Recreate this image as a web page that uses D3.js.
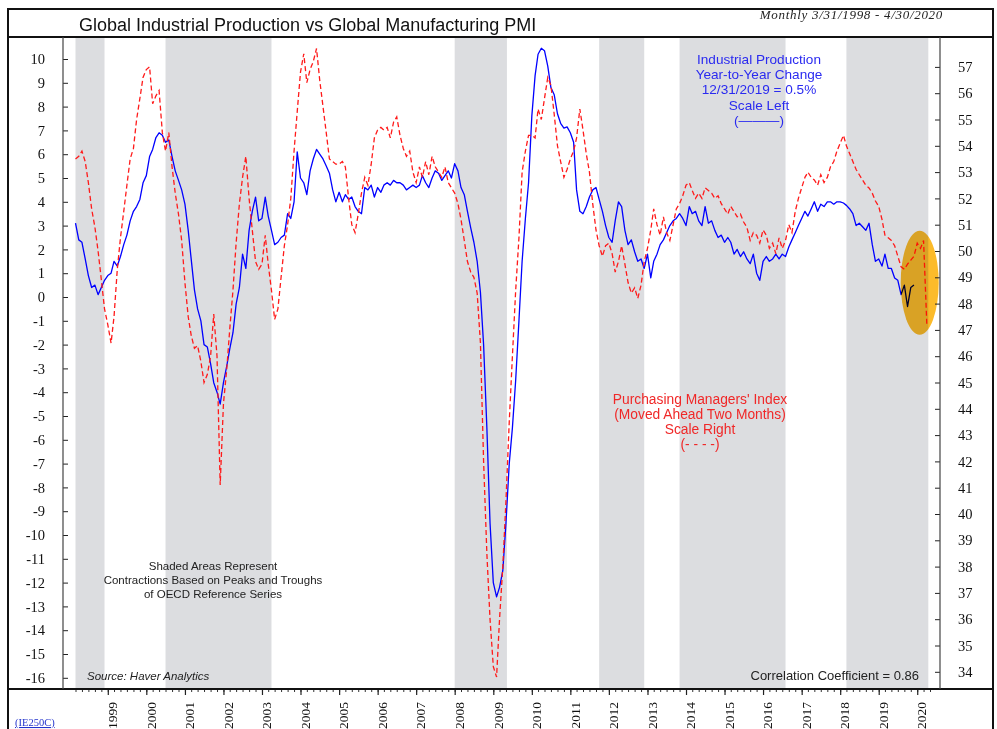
<!DOCTYPE html>
<html><head><meta charset="utf-8">
<script src="https://cdn.jsdelivr.net/npm/d3@7"></script>
<style>
html,body{margin:0;padding:0;background:#fff;}
svg{display:block;}
</style></head>
<body>
<svg id="chart" width="997" height="729"></svg>
<script>
// ---------------- DATA ----------------
const ipStart = "1998-03";          // Industrial production yoy % (scale left), monthly
const ipValues = [
 3.1,2.4,2.3,1.6,0.9,0.4,0.5,0.1,0.4,0.7,
 0.9,1.0,1.5,1.3,1.7,2.2,2.6,3.2,3.6,3.8,4.1,4.8,
 5.1,5.9,6.2,6.7,6.9,6.8,6.5,6.6,5.9,5.3,4.9,4.5,
 3.9,2.8,1.6,0.3,-0.5,-1.0,-2.0,-2.1,-2.8,-3.6,-4.0,-4.5,
 -3.6,-2.9,-2.2,-1.5,-0.3,0.4,1.8,1.2,2.8,3.6,4.2,3.2,
 3.3,4.2,3.4,2.8,2.2,2.3,2.5,2.6,3.5,3.3,4.0,6.1,
 5.0,4.8,4.3,5.3,5.8,6.2,6.0,5.8,5.5,5.2,4.5,4.0,
 4.4,4.0,4.3,4.1,4.2,3.8,3.6,3.5,4.6,4.5,4.7,4.2,
 4.6,4.4,4.7,4.8,4.7,4.9,4.8,4.8,4.7,4.5,4.6,4.7,
 4.6,4.7,5.1,4.8,4.6,5.0,5.3,5.2,4.9,5.1,5.3,5.0,
 5.6,5.3,4.6,4.3,3.6,2.9,2.3,1.5,0.2,-2.0,-5.5,-9.5,
 -12.0,-12.6,-12.2,-11.5,-9.5,-7.0,-5.5,-3.5,-1.0,1.5,3.3,4.8,
 7.6,9.3,10.2,10.45,10.35,9.7,8.8,8.5,7.7,7.3,7.1,7.15,
 6.9,6.5,4.5,3.6,3.5,3.8,4.2,4.5,4.6,4.1,3.6,3.0,
 2.5,2.3,3.2,4.0,3.8,2.8,2.2,2.4,1.9,1.5,1.6,1.2,
 1.8,0.8,1.5,1.8,2.2,2.4,2.7,3.0,3.2,3.3,3.5,3.3,
 3.0,3.8,3.5,3.6,3.2,3.0,3.8,3.1,3.2,2.8,2.5,2.6,
 2.3,2.5,2.3,1.8,2.0,1.7,1.9,1.6,1.4,1.8,1.0,0.7,
 1.5,1.7,1.5,1.6,1.8,1.6,1.8,1.7,2.1,2.4,2.7,3.0,
 3.3,3.6,3.4,3.7,4.0,3.6,3.9,3.8,4.0,4.0,3.9,4.0,
 4.0,3.95,3.85,3.7,3.5,3.0,3.1,2.95,2.8,3.1,2.2,1.5,
 1.6,1.3,1.8,1.2,1.2,0.8,0.7,0.1,0.5,-0.4,0.4,0.5
];
const pmiStart = "1998-03";         // Global manufacturing PMI moved ahead 2 months (scale right)
const pmiValues = [
 53.5,53.6,53.8,53.4,52.6,51.6,50.9,50.0,48.9,47.8,
 47.2,46.5,47.5,49.3,50.5,51.5,52.5,53.5,53.9,55.0,55.8,56.6,
 56.9,57.0,55.6,55.9,56.1,54.5,53.8,54.5,53.2,52.2,51.4,50.4,
 48.8,47.5,46.8,46.3,46.4,45.8,45.0,45.3,46.0,47.6,46.0,41.1,
 44.2,45.5,47.0,48.5,50.3,51.8,52.8,53.6,52.0,50.8,49.6,49.3,
 49.5,50.6,49.5,48.5,47.4,47.8,49.0,50.2,51.0,52.0,53.8,55.3,
 56.8,57.5,56.4,56.9,57.2,57.7,56.5,55.5,54.5,53.5,53.4,53.3,
 53.3,53.4,53.2,52.0,51.0,50.7,51.4,52.2,52.8,52.5,53.3,54.3,
 54.6,54.7,54.6,54.7,54.3,54.9,55.1,54.4,53.9,53.6,53.8,53.0,
 52.6,53.2,52.8,53.4,52.9,53.6,53.2,53.0,52.8,53.2,52.6,52.4,
 52.2,51.8,51.2,50.4,49.6,49.2,49.0,48.4,46.5,42.0,38.5,36.0,
 34.2,33.8,36.0,38.0,40.5,43.5,46.0,48.5,50.5,53.0,53.8,54.4,
 54.4,54.3,55.4,55.0,55.8,56.6,56.3,55.2,54.0,53.4,52.8,53.1,
 53.5,53.8,54.3,55.4,54.6,53.7,53.0,51.8,50.8,50.2,49.8,50.2,
 50.3,49.9,49.2,49.6,50.2,49.5,48.8,48.4,48.6,48.2,48.7,49.6,
 50.1,50.8,51.6,51.0,50.6,51.3,50.7,50.4,51.0,51.6,51.8,52.1,
 52.5,52.6,52.3,52.0,52.2,52.0,52.4,52.3,52.2,52.0,52.1,51.8,
 51.6,51.4,51.7,51.5,51.3,51.4,51.1,50.9,50.4,50.7,50.6,50.3,
 50.8,50.6,50.1,50.3,49.9,50.5,50.1,50.4,51.0,50.7,51.5,52.0,
 52.4,52.8,53.0,52.8,52.7,52.5,52.9,52.6,52.8,53.2,53.4,53.8,
 54.1,54.4,54.0,53.7,53.4,53.1,52.9,52.7,52.5,52.4,52.2,51.9,
 51.7,51.2,50.6,50.5,50.4,50.2,49.8,49.4,49.3,49.5,49.65,49.8,
 50.3,50.1,50.4,47.2
];
const recessionStarts = ["1998-03-01","2000-07-01","2008-01-01","2011-10-01","2013-11-01","2018-03-01"];
const recessionEnds   = ["1998-12-01","2003-04-01","2009-05-10","2012-12-01","2016-08-01","2020-04-15"];
const leftTicks  = d3.range(-16, 11, 1);
const rightTicks = d3.range(34, 58, 1);
const titleText = "Global Industrial Production vs Global Manufacturing PMI";
const periodText = "Monthly 3/31/1998 - 4/30/2020";
const ipLegend = ["Industrial Production","Year-to-Year Change","12/31/2019 = 0.5%","Scale Left","(\u2014\u2014\u2014)"];
const pmiLegend = ["Purchasing Managers' Index","(Moved Ahead Two Months)","Scale Right","(- - - -)"];
const noteLines = ["Shaded Areas Represent","Contractions Based on Peaks and Troughs","of OECD Reference Series"];
const sourceText = "Source: Haver Analytics";
const corrText = "Correlation Coefficient = 0.86";
const codeText = "(IE250C)";
const highlightDate = "2020-01-15"; // centre of highlighted ellipse (date), value on left scale
const highlightValue = 0.6;

// ---------------- LAYOUT ----------------
const W = 997, H = 729;
const plotL = 63, plotR = 940, plotT = 37, plotB = 689;
const SANS = "'Liberation Sans', Arial, Helvetica, sans-serif";
const SERIF = "'Liberation Serif', 'Times New Roman', serif";
const parseM = d3.timeParse("%Y-%m");
const parseD = d3.timeParse("%Y-%m-%d");

const svg = d3.select("#chart");
svg.append("rect").attr("width", W).attr("height", H).attr("fill", "#fff");

const x = d3.scaleTime()
  .domain([new Date(1998, 2, 1), new Date(2020, 4, 1)])
  .range([75.5, 930]);
const yL = d3.scaleLinear().domain([0, 10]).range([297, 59]);
const yR = d3.scaleLinear().domain([50, 57]).range([251, 66.9]);

const ipData = ipValues.map((v, i) => ({d: d3.timeMonth.offset(parseM(ipStart), i), v}));
const pmiData = pmiValues.map((v, i) => ({d: d3.timeMonth.offset(parseM(pmiStart), i), v}));

// clip
svg.append("clipPath").attr("id", "clip").append("rect")
  .attr("x", plotL + 1).attr("y", plotT).attr("width", plotR - plotL - 1).attr("height", plotB - plotT);
const plot = svg.append("g").attr("clip-path", "url(#clip)");

// recession shading
plot.selectAll("rect.rec").data(recessionStarts.map((s, i) => [parseD(s), parseD(recessionEnds[i])]))
  .join("rect").attr("class", "rec")
  .attr("x", d => x(d[0])).attr("width", d => x(d[1]) - x(d[0]))
  .attr("y", plotT).attr("height", plotB - plotT)
  .attr("fill", "#dcdde0");

// lines
const ipLine = d3.line().x(d => x(d.d)).y(d => yL(d.v));
const pmiLine = d3.line().x(d => x(d.d)).y(d => yR(d.v));
plot.append("path").datum(ipData).attr("d", ipLine)
  .attr("fill", "none").attr("stroke", "#0000ff").attr("stroke-width", 1.3).attr("stroke-linejoin", "round");
plot.append("path").datum(pmiData).attr("d", pmiLine)
  .attr("fill", "none").attr("stroke", "#ff1a1a").attr("stroke-width", 1.3)
  .attr("stroke-dasharray", "5,3");

// highlight ellipse (multiply blend like a highlighter)
svg.append("ellipse")
  .attr("cx", x(parseD(highlightDate)) + 1).attr("cy", yL(highlightValue))
  .attr("rx", 19).attr("ry", 52)
  .attr("fill", "#fcbb2a")
  .style("mix-blend-mode", "multiply");

// ---------------- AXES ----------------
const fmt = d => String(d);
const axL = svg.append("g").attr("transform", `translate(${plotL},0)`)
  .call(d3.axisLeft(yL).tickValues(leftTicks).tickSize(-5).tickSizeOuter(0).tickPadding(18).tickFormat(fmt));
axL.select(".domain").remove();
axL.selectAll(".tick line").attr("stroke", "#222");
axL.selectAll(".tick text").attr("font-family", SERIF).attr("font-size", 14.5).attr("fill", "#111");

const axR = svg.append("g").attr("transform", `translate(${plotR},0)`)
  .call(d3.axisRight(yR).tickValues(rightTicks).tickSize(-5).tickSizeOuter(0).tickPadding(18).tickFormat(fmt));
axR.select(".domain").remove();
axR.selectAll(".tick line").attr("stroke", "#222");
axR.selectAll(".tick text").attr("font-family", SERIF).attr("font-size", 14.5).attr("fill", "#111");

// minor month ticks
const axMinor = svg.append("g").attr("transform", `translate(0,${plotB})`)
  .call(d3.axisBottom(x).ticks(d3.timeMonth.every(2)).tickSize(3).tickFormat(""));
axMinor.select(".domain").remove();
axMinor.selectAll(".tick line").attr("stroke", "#333");

const axX = svg.append("g").attr("transform", `translate(0,${plotB})`)
  .call(d3.axisBottom(x).ticks(d3.timeYear.every(1)).tickSize(6).tickFormat(d3.timeFormat("%Y")));
axX.select(".domain").remove();
axX.selectAll(".tick").filter(d => d.getFullYear() < 1999).remove();
axX.selectAll(".tick line").attr("stroke", "#222").attr("stroke-width", 1.2);
axX.selectAll(".tick text")
  .attr("font-family", SERIF).attr("font-size", 13.5).attr("fill", "#111")
  .attr("x", 0).attr("y", 0).attr("dy", "0.35em")
  .attr("text-anchor", "end")
  .attr("transform", "translate(4,13) rotate(-90)");

// ---------------- FRAME ----------------
const frame = svg.append("g").attr("fill", "none").attr("stroke", "#111");
frame.append("rect").attr("x", 8).attr("y", 9).attr("width", 985).attr("height", 740).attr("stroke-width", 2);
frame.append("line").attr("x1", 8).attr("x2", 993).attr("y1", plotT).attr("y2", plotT).attr("stroke-width", 2);
frame.append("line").attr("x1", 8).attr("x2", 993).attr("y1", plotB).attr("y2", plotB).attr("stroke-width", 2);
frame.append("line").attr("x1", plotL).attr("x2", plotL).attr("y1", plotT).attr("y2", plotB).attr("stroke", "#444").attr("stroke-width", 1.2);
frame.append("line").attr("x1", plotR).attr("x2", plotR).attr("y1", plotT).attr("y2", plotB).attr("stroke", "#444").attr("stroke-width", 1.2);

// ---------------- TEXTS ----------------
svg.append("text").attr("x", 79).attr("y", 31).attr("font-family", SANS).attr("font-size", 18)
  .attr("fill", "#111").text(titleText);
svg.append("text").attr("x", 943).attr("y", 18.5).attr("text-anchor", "end")
  .attr("font-family", SERIF).attr("font-style", "italic").attr("font-size", 13)
  .attr("letter-spacing", 0.7).attr("fill", "#222").text(periodText);

svg.append("g").selectAll("text").data(ipLegend).join("text")
  .attr("x", 759).attr("y", (d, i) => 64 + i * 15.2).attr("text-anchor", "middle")
  .attr("font-family", SANS).attr("font-size", 13.6).attr("fill", "#2a2af0").text(d => d);

svg.append("g").selectAll("text").data(pmiLegend).join("text")
  .attr("x", 700).attr("y", (d, i) => 404 + i * 15).attr("text-anchor", "middle")
  .attr("font-family", SANS).attr("font-size", 13.8).attr("fill", "#f02828").text(d => d);

svg.append("g").selectAll("text").data(noteLines).join("text")
  .attr("x", 213).attr("y", (d, i) => 570 + i * 14).attr("text-anchor", "middle")
  .attr("font-family", SANS).attr("font-size", 11.5).attr("fill", "#222").text(d => d);

svg.append("text").attr("x", 87).attr("y", 680).attr("font-family", SANS).attr("font-style", "italic")
  .attr("font-size", 11.5).attr("fill", "#222").text(sourceText);
svg.append("text").attr("x", 919).attr("y", 680).attr("text-anchor", "end").attr("font-family", SANS)
  .attr("font-size", 13).attr("fill", "#222").text(corrText);

svg.append("text").attr("x", 15).attr("y", 726).attr("font-family", SERIF).attr("font-size", 10.5)
  .attr("fill", "#2233cc").attr("text-decoration", "underline").text(codeText);
</script>
</body></html>
